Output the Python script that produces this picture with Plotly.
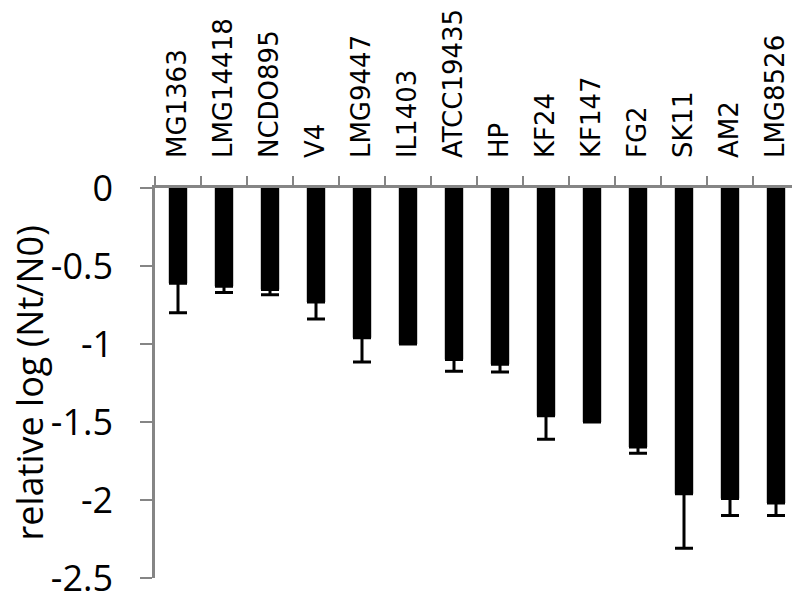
import plotly.graph_objects as go

strains = ["MG1363", "LMG14418", "NCDO895", "V4", "LMG9447", "IL1403", "ATCC19435",
           "HP", "KF24", "KF147", "FG2", "SK11", "AM2", "LMG8526"]
values = [-0.61, -0.63, -0.65, -0.73, -0.96, -1.0, -1.1,
          -1.13, -1.46, -1.5, -1.66, -1.96, -1.99, -2.02]
err_minus = [0.19, 0.04, 0.035, 0.11, 0.155, 0.0, 0.075,
             0.05, 0.15, 0.0, 0.04, 0.35, 0.11, 0.08]
y_ticks = [0, -0.5, -1, -1.5, -2, -2.5]
y_tick_text = ["0", "-0.5", "-1", "-1.5", "-2", "-2.5"]
y_title = "relative log (Nt/N0)"

fig = go.Figure(go.Bar(
    x=strains, y=values,
    marker=dict(color="black", line=dict(width=0)),
    error_y=dict(type="data", symmetric=False, array=[0] * len(err_minus),
                 arrayminus=err_minus, color="black", thickness=3, width=9),
))

# page body adds an 8px offset; margins compensate so the plot area sits at x 155-799, y 188-578
fig.update_layout(
    width=800, height=592,
    margin=dict(l=147, r=9, t=180, b=22),
    paper_bgcolor="white", plot_bgcolor="white",
    bargap=0.6, showlegend=False,
    xaxis=dict(side="top", tickangle=-90, showline=True, linecolor="#858585", linewidth=2.5,
               ticks="outside", tickson="boundaries", ticklen=9, tickwidth=2, tickcolor="#858585",
               tickfont=dict(family="DejaVu Sans", size=26, color="black"),
               ticklabelstandoff=22, showgrid=False, zeroline=False, automargin=False,
               ticklabeloverflow="allow"),
    yaxis=dict(range=[-2.5, 0], tickvals=y_ticks, ticktext=y_tick_text,
               showline=True, linecolor="#858585", linewidth=2.5,
               ticks="outside", ticklen=12, tickwidth=2, tickcolor="#858585",
               tickfont=dict(family="Open Sans", size=36, color="black"),
               ticklabelstandoff=20, showgrid=False, zeroline=False, automargin=False,
               ticklabeloverflow="allow"),
    annotations=[dict(text=y_title, textangle=-90, xref="paper", yref="paper",
                      x=-0.195, y=0.5, xanchor="center", yanchor="middle", showarrow=False,
                      font=dict(family="Open Sans", size=36, color="black"))],
)

fig.write_html("out.html")
